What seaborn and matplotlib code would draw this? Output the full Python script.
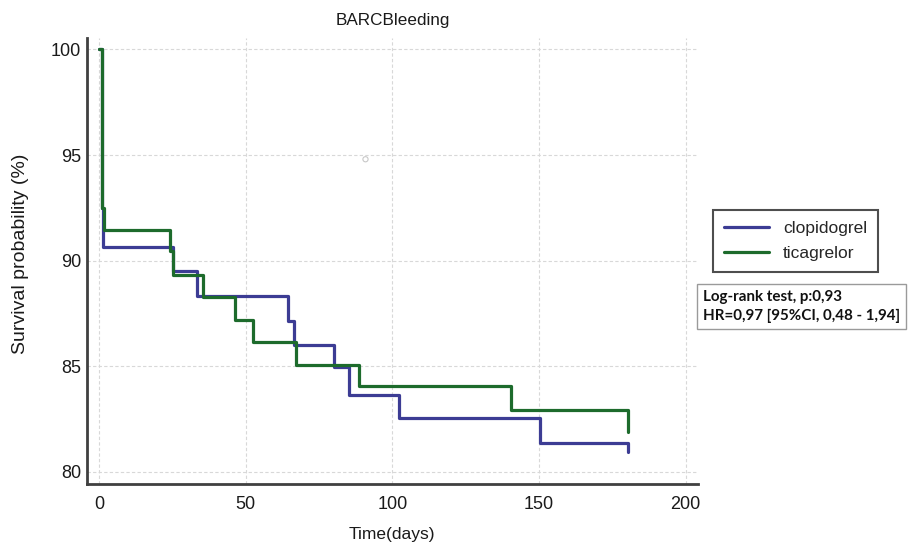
import matplotlib
matplotlib.use("Agg")
import matplotlib.pyplot as plt
import seaborn as sns
import numpy as np
import pandas as pd

# ---- data ----
clop_time = [0, 1.0, 1.2, 25.1, 33.3, 64.4, 66.3, 80.2, 85.1, 102.2, 150.2, 180.3, 180.35]
clop_surv = [100, 92.5, 90.65, 89.5, 88.35, 87.15, 86.0, 84.95, 83.65, 82.55, 81.35, 81.35, 80.95]

tica_time = [0, 0.9, 1.8, 24.2, 25.0, 35.3, 46.2, 52.3, 67.2, 88.5, 140.3, 180.3, 180.35]
tica_surv = [100, 92.5, 91.45, 90.45, 89.3, 88.3, 87.2, 86.15, 85.05, 84.05, 82.95, 82.95, 81.9]

marker_time = [90.8]
marker_surv = [94.8]

series_names = ["clopidogrel", "ticagrelor"]
series_colors = ["#3c3c94", "#1d6b2c"]

x_ticks = [0, 50, 100, 150, 200]
y_ticks = [80, 85, 90, 95, 100]

title = "BARCBleeding"
x_label = "Time(days)"
y_label = "Survival probability (%)"
stats_text = "Log-rank test, p:0,93\nHR=0,97 [95%CI, 0,48 - 1,94]"

# ---- style ----
sns.set_style("white")
plt.rcParams["font.family"] = ["Liberation Sans", "DejaVu Sans"]

fig = plt.figure(figsize=(9.17, 5.45), dpi=100)
ax = fig.add_axes([0.0954, 0.1128, 0.6655, 0.8175])

df = pd.concat([
    pd.DataFrame({"time": clop_time, "surv": clop_surv, "group": series_names[0]}),
    pd.DataFrame({"time": tica_time, "surv": tica_surv, "group": series_names[1]}),
], ignore_index=True)

sns.lineplot(data=df, x="time", y="surv", hue="group", palette=series_colors,
             estimator=None, sort=False, drawstyle="steps-post", linewidth=2.3,
             ax=ax, legend=True)

ax.scatter(marker_time, marker_surv, s=14, facecolors="none",
           edgecolors="#c8c8c8", linewidths=0.8, zorder=1)

ax.set_xlim(-4.0, 204.1)
ax.set_ylim(79.45, 100.54)
ax.set_xticks(x_ticks)
ax.set_yticks(y_ticks)

ax.grid(True, color="#d8d8d8", linestyle=(0, (3, 2)), linewidth=0.8)
ax.set_axisbelow(True)

for s in ["top", "right"]:
    ax.spines[s].set_visible(False)
for s in ["left", "bottom"]:
    ax.spines[s].set_color("#404040")
    ax.spines[s].set_linewidth(2.0)

ax.tick_params(axis="y", direction="in", length=9, width=1.5, color="#404040",
               labelsize=13, pad=4.5, labelcolor="#1a1a1a")
ax.tick_params(axis="x", direction="in", length=6, width=1.5, color="#404040",
               labelsize=13, pad=9, labelcolor="#1a1a1a")

ax.set_title(title, fontsize=12.3, pad=9, color="#1a1a1a")
ax.set_xlabel(x_label, fontsize=12.5, color="#1a1a1a")
ax.set_ylabel(y_label, fontsize=14, color="#1a1a1a")
ax.xaxis.set_label_coords(0.499, -0.098)
ax.yaxis.set_label_coords(-0.096, 0.515)

# legend
handles, labels = ax.get_legend_handles_labels()
leg = ax.legend(handles, labels, loc="upper left",
                bbox_to_anchor=(712.7 / 917, 1 - 210 / 545),
                bbox_transform=fig.transFigure, borderaxespad=0,
                frameon=True, fancybox=False,
                fontsize=12.5, handlelength=2.6, handletextpad=0.8,
                borderpad=0.65, labelspacing=0.55, title=None)
leg.get_frame().set_edgecolor("#222222")
leg.get_frame().set_linewidth(1.5)
for line in leg.get_lines():
    line.set_linewidth(2.3)

fig.text(703 / 917, 1 - 306.7 / 545, stats_text, ha="left", va="center",
         fontsize=10.9, fontweight="bold", family=["Lato", "DejaVu Sans"],
         color="#111111", linespacing=1.4,
         bbox=dict(boxstyle="square,pad=0.4", facecolor="white",
                   edgecolor="#9a9a9a", linewidth=1.0))

fig.savefig("out.png", dpi=100)
